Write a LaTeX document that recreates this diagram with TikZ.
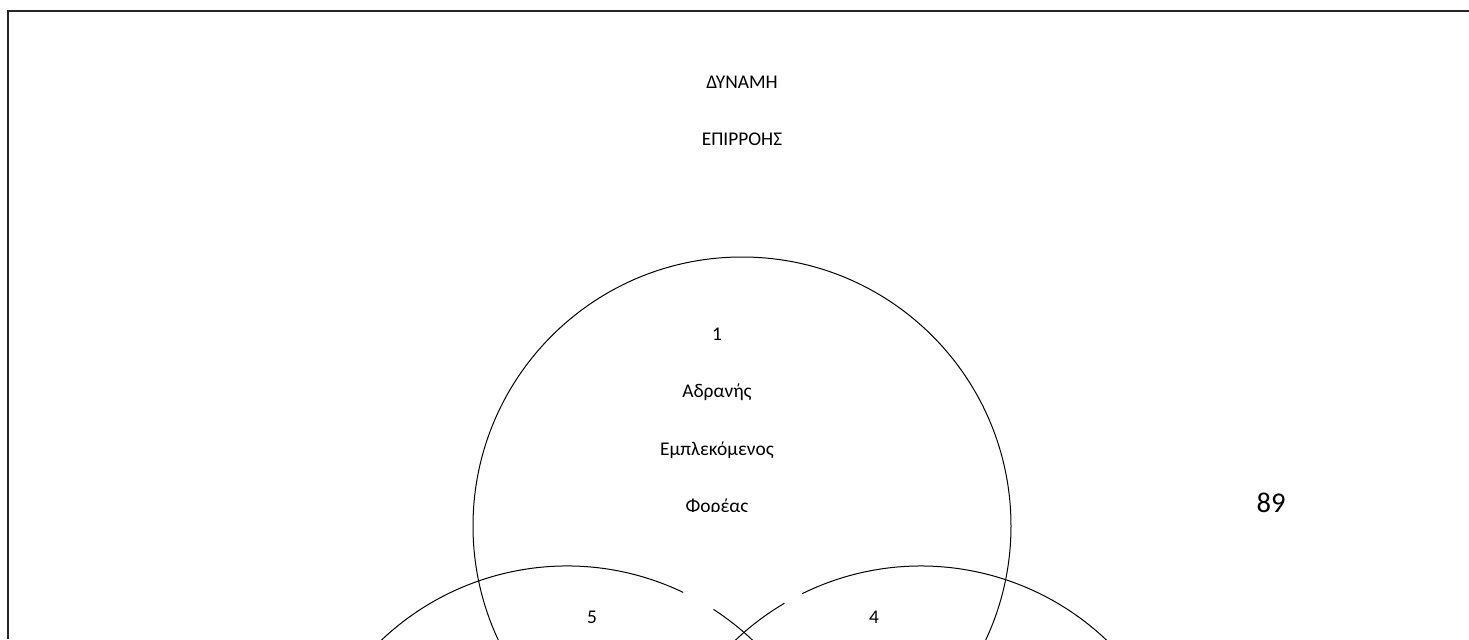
\documentclass[tikz,border=0pt]{standalone}
\usepackage{fontspec}
\setmainfont{Carlito}
\begin{document}
\begin{tikzpicture}[x=0.5pt,y=0.5pt,
  lbl/.style={inner sep=0pt,anchor=base,font=\fontsize{9.7}{11}\selectfont},
  biglbl/.style={inner sep=0pt,anchor=base,font=\fontsize{14.3}{16}\selectfont},
  ring/.style={line width=0.5pt,draw=black}]
\useasboundingbox (0,0) rectangle (1469,639);
\begin{scope}
\clip (0,0) rectangle (1469,639);
% frame
\draw[line width=0.9pt,draw=black!85] (8,0) -- (8,628) -- (1469,628);
% circles
\coordinate (cb) at (742,113);
\coordinate (cl) at (567,-196);
\coordinate (cr) at (921,-196);
\draw[ring] (cb) circle (269);
\draw[ring] (cl) ++(64.4:269) arc[start angle=64.4,end angle=417,radius=269];
\draw[ring] (cr) ++(120.5:269) arc[start angle=120.5,end angle=476.2,radius=269];
% texts
\node[lbl] (t1) at (742,551) {ΔΥΝΑΜΗ};
\node[lbl] (t2) at (742,494) {ΕΠΙΡΡΟΗΣ};
\node[lbl] (n1) at (717,299) {1};
\node[lbl] (a1) at (717,242) {Αδρανής};
\node[lbl] (a2) at (717,184) {Εμπλεκόμενος};
\begin{scope}
\clip (600,128) rectangle (840,160);
\node[lbl] (a3) at (717,127) {Φορέας};
\end{scope}
\node[lbl] (n5) at (592,16) {5};
\node[lbl] (n4) at (874,16) {4};
\node[biglbl] (n89) at (1271,127) {89};
\end{scope}
\end{tikzpicture}
\end{document}
